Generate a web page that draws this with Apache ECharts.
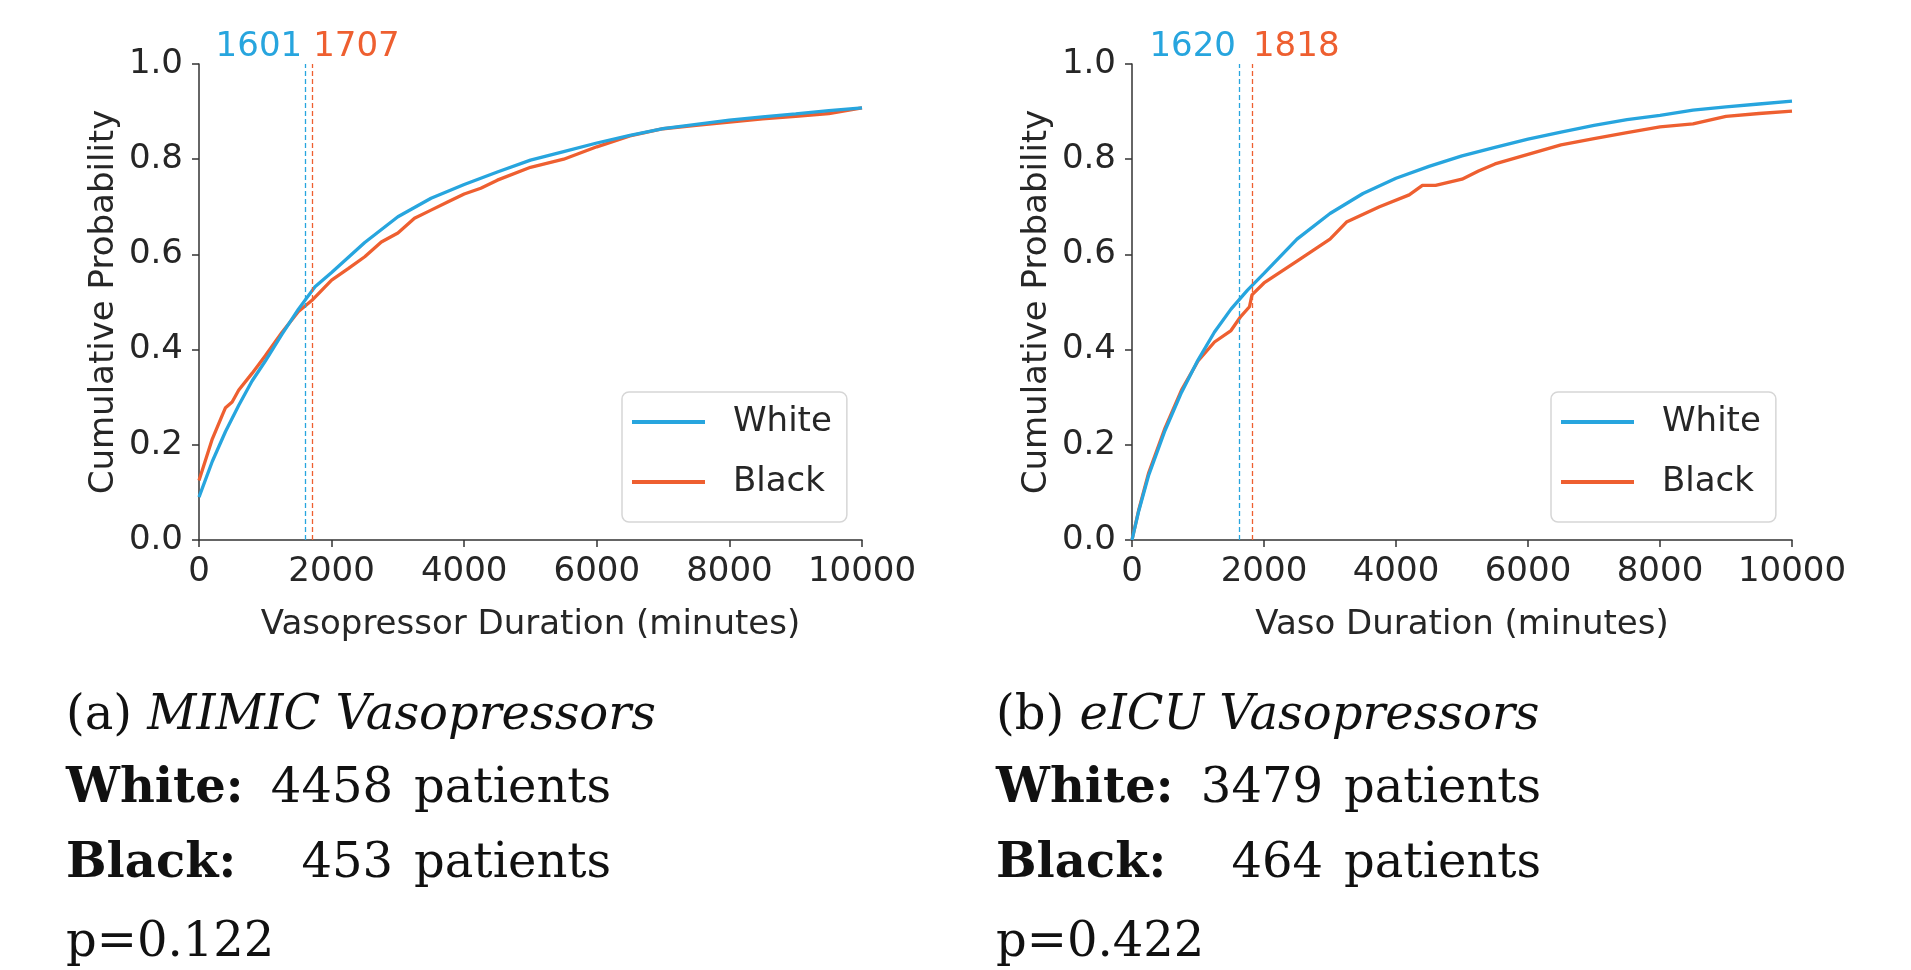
<!DOCTYPE html>
<html>
<head>
<meta charset="utf-8">
<script src="https://cdn.jsdelivr.net/npm/echarts@6/dist/echarts.min.js"></script>
<style>
html,body{margin:0;padding:0;background:#fff;}
#chart{width:1911px;height:970px;}
</style>
</head>
<body>
<div id="chart"></div>
<script>
// ---------- DATA ----------
const seriesNames = ['White', 'Black'];
const xTicks = [0, 2000, 4000, 6000, 8000, 10000];
const yTicks = [0.0, 0.2, 0.4, 0.6, 0.8, 1.0];

// (a) MIMIC
const mimicWhiteX = [0, 200, 400, 600, 800, 1000, 1250, 1500, 1750, 2000, 2500, 3000, 3500, 4000, 4500, 5000, 5500, 6000, 6500, 7000, 7500, 8000, 8500, 9000, 9500, 10000];
const mimicWhiteY = [0.09, 0.165, 0.228, 0.283, 0.334, 0.376, 0.432, 0.485, 0.532, 0.562, 0.625, 0.679, 0.718, 0.747, 0.773, 0.798, 0.816, 0.834, 0.85, 0.864, 0.873, 0.882, 0.889, 0.895, 0.902, 0.908];
const mimicBlackX = [0, 200, 350, 400, 500, 600, 800, 1000, 1250, 1500, 1700, 2000, 2250, 2500, 2750, 3000, 3250, 3500, 3750, 4000, 4250, 4500, 5000, 5500, 6000, 6500, 7000, 7500, 8000, 8500, 9000, 9500, 10000];
const mimicBlackY = [0.125, 0.212, 0.262, 0.278, 0.29, 0.315, 0.35, 0.387, 0.436, 0.48, 0.503, 0.546, 0.57, 0.595, 0.626, 0.645, 0.676, 0.693, 0.71, 0.727, 0.739, 0.756, 0.783, 0.80, 0.826, 0.849, 0.864, 0.871, 0.878, 0.885, 0.89, 0.896, 0.908];
const mimicMedians = [1601, 1707];

// (b) eICU
const eicuWhiteX = [0, 100, 250, 500, 750, 1000, 1250, 1500, 1750, 2000, 2500, 3000, 3500, 4000, 4500, 5000, 5500, 6000, 6500, 7000, 7500, 8000, 8500, 9000, 9500, 10000];
const eicuWhiteY = [0.0, 0.06, 0.135, 0.23, 0.31, 0.378, 0.437, 0.485, 0.525, 0.56, 0.632, 0.686, 0.728, 0.76, 0.785, 0.807, 0.825, 0.842, 0.857, 0.871, 0.883, 0.892, 0.903, 0.91, 0.916, 0.922];
const eicuBlackX = [0, 100, 250, 500, 750, 1000, 1250, 1500, 1650, 1780, 1818, 2000, 2500, 3000, 3250, 3750, 4200, 4400, 4600, 5000, 5250, 5500, 6000, 6500, 7000, 7500, 8000, 8500, 9000, 9500, 10000];
const eicuBlackY = [0.0, 0.062, 0.14, 0.235, 0.315, 0.376, 0.416, 0.44, 0.47, 0.49, 0.515, 0.54, 0.586, 0.632, 0.668, 0.70, 0.725, 0.745, 0.745, 0.758, 0.775, 0.79, 0.81, 0.83, 0.843, 0.856, 0.868, 0.874, 0.89, 0.896, 0.901];
const eicuMedians = [1620, 1818];

const xAxisTitles = ['Vasopressor Duration (minutes)', 'Vaso Duration (minutes)'];
const yAxisTitle = 'Cumulative Probability';

const captionTitles = [['(a) ', 'MIMIC Vasopressors'], ['(b) ', 'eICU Vasopressors']];
const captionGroups = ['White:', 'Black:'];
const captionCounts = [[4458, 453], [3479, 464]];
const captionPvals = ['p=0.122', 'p=0.422'];

// ---------- STYLE ----------
const BLUE = '#27a5de';
const ORANGE = '#ee5f30';
const SANS = 'DejaVu Sans';
const SERIF = 'DejaVu Serif';
const FS = 34;
const AXC = '#333333';
const TXC = '#262626';

const grids = [
  {left: 199, top: 64, width: 663, height: 476},
  {left: 1132, top: 64, width: 660, height: 476}
];

function zip(xs, ys) { return xs.map((x, i) => [x, ys[i]]); }

function makeX(i) {
  return {
    type: 'value', gridIndex: i, min: 0, max: 10000, interval: 2000,
    name: xAxisTitles[i], nameLocation: 'middle', nameGap: 68,
    nameTextStyle: {fontFamily: SANS, fontSize: FS, color: TXC},
    axisLine: {show: true, lineStyle: {color: AXC, width: 1.5}},
    axisTick: {show: true, length: 7, lineStyle: {color: AXC, width: 1.5}},
    axisLabel: {fontFamily: SANS, fontSize: FS, color: TXC, margin: 15,
      formatter: v => String(v)},
    splitLine: {show: false}
  };
}
function makeY(i) {
  return {
    type: 'value', gridIndex: i, min: 0, max: 1, interval: 0.2,
    name: yAxisTitle, nameLocation: 'middle', nameGap: 78,
    nameTextStyle: {fontFamily: SANS, fontSize: FS, color: TXC},
    axisLine: {show: true, lineStyle: {color: AXC, width: 1.5}},
    axisTick: {show: true, length: 7, lineStyle: {color: AXC, width: 1.5}},
    axisLabel: {fontFamily: SANS, fontSize: FS, color: TXC, margin: 16,
      formatter: v => v.toFixed(1)},
    splitLine: {show: false}
  };
}

function medianLine(val, color, side) {
  return {
    silent: true, symbol: 'none', animation: false,
    lineStyle: {type: [5, 3], color: color, width: 1.3},
    label: {
      show: true, position: 'end', formatter: String(val),
      color: color, fontFamily: SANS, fontSize: FS,
      align: side, verticalAlign: 'middle', distance: 17,
      padding: side === 'right' ? [0, 3, 0, 0] : [0, 0, 0, 1]
    },
    data: [{xAxis: val}]
  };
}

function makeSeries(i, wx, wy, bx, by, med) {
  return [
    {name: seriesNames[0], type: 'line', xAxisIndex: i, yAxisIndex: i, data: zip(wx, wy),
     symbol: 'none', lineStyle: {color: BLUE, width: 3.3}, itemStyle: {color: BLUE},
     z: 3, markLine: medianLine(med[0], BLUE, 'right')},
    {name: seriesNames[1], type: 'line', xAxisIndex: i, yAxisIndex: i, data: zip(bx, by),
     symbol: 'none', lineStyle: {color: ORANGE, width: 3.3}, itemStyle: {color: ORANGE},
     z: 2, markLine: medianLine(med[1], ORANGE, 'left')}
  ];
}

function makeLegend(left) {
  return {
    left: left, top: 392, orient: 'vertical',
    data: seriesNames,
    icon: 'rect',
    itemWidth: 73, itemHeight: 4, itemGap: 26,
    padding: [13, 15, 23, 10],
    borderColor: '#d6d6d6', borderWidth: 1.5, borderRadius: 7,
    backgroundColor: 'rgba(255,255,255,0.85)',
    textStyle: {fontFamily: SANS, fontSize: FS, color: TXC, padding: [0, 0, 0, 23], lineHeight: 34},
    selectedMode: false
  };
}

// captions
const captionX = [66, 996];
const baselines = [733, 806, 881, 960];
const CFS = 48;
const midOff = 0.346 * CFS;
const graphics = [];
captionX.forEach((x0, k) => {
  graphics.push({type: 'text', x: x0, y: baselines[0] - midOff, silent: true,
    style: {text: '{n|' + captionTitles[k][0] + '}{i|' + captionTitles[k][1] + '}',
      verticalAlign: 'middle', align: 'left',
      rich: {n: {fontFamily: SERIF, fontSize: CFS, fill: '#111'},
             i: {fontFamily: SERIF, fontSize: CFS, fontStyle: 'italic', fill: '#111'}}}});
  captionGroups.forEach((g, j) => {
    const y = baselines[j + 1] - midOff;
    graphics.push({type: 'text', x: x0, y: y, silent: true,
      style: {text: g, font: 'bold ' + CFS + 'px "' + SERIF + '"', fill: '#111', align: 'left', verticalAlign: 'middle'}});
    graphics.push({type: 'text', x: x0 + 327, y: y, silent: true,
      style: {text: String(captionCounts[k][j]), font: CFS + 'px "' + SERIF + '"', fill: '#111', align: 'right', verticalAlign: 'middle'}});
    graphics.push({type: 'text', x: x0 + 348, y: y, silent: true,
      style: {text: 'patients', font: CFS + 'px "' + SERIF + '"', fill: '#111', align: 'left', verticalAlign: 'middle'}});
  });
  graphics.push({type: 'text', x: x0, y: baselines[3] - midOff, silent: true,
    style: {text: captionPvals[k], font: CFS + 'px "' + SERIF + '"', fill: '#111', align: 'left', verticalAlign: 'middle'}});
});

const chart = echarts.init(document.getElementById('chart'), null, {renderer: 'canvas'});
chart.setOption({
  backgroundColor: '#ffffff',
  animation: false,
  grid: grids,
  xAxis: [makeX(0), makeX(1)],
  yAxis: [makeY(0), makeY(1)],
  legend: [makeLegend(622), makeLegend(1551)],
  series: [].concat(
    makeSeries(0, mimicWhiteX, mimicWhiteY, mimicBlackX, mimicBlackY, mimicMedians),
    makeSeries(1, eicuWhiteX, eicuWhiteY, eicuBlackX, eicuBlackY, eicuMedians)
  ),
  graphic: graphics
});
</script>
</body>
</html>
